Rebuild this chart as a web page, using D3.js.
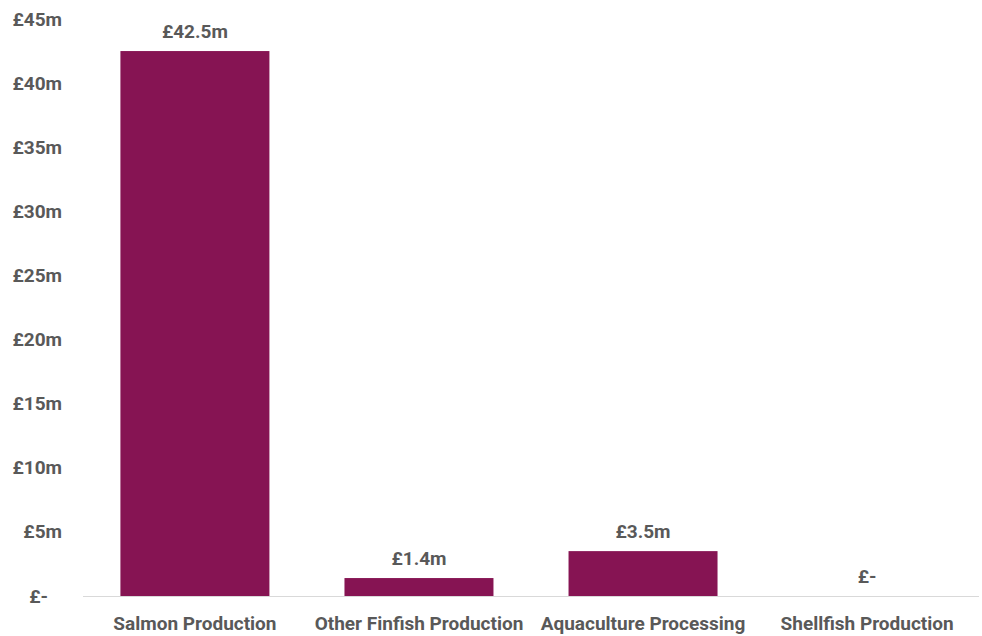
<!DOCTYPE html>
<html><head><meta charset="utf-8">
<script src="https://cdn.jsdelivr.net/npm/d3@7"></script>
<style>body{margin:0;background:#fff}svg{display:block}</style>
</head><body>
<svg id="c" width="982" height="636"></svg>
<script>
const categories = ["Salmon Production","Other Finfish Production","Aquaculture Processing","Shellfish Production"];
const values = [42.5, 1.4, 3.5, 0];
const valueLabels = ["£42.5m","£1.4m","£3.5m","£-"];
const yTicks = [0,5,10,15,20,25,30,35,40,45];

const svg = d3.select("#c");
const font = "Roboto, 'Noto Sans', sans-serif";
const txt = "#595959";
const fs = 19;
const x = d3.scaleBand().domain(categories).range([83, 979]).paddingInner(0.335).paddingOuter(0.167);
const y = d3.scaleLinear().domain([0,45]).range([596, 19]);

// y axis labels
const ya = svg.append("g").attr("transform","translate(62,0)")
  .call(d3.axisLeft(y).tickValues(yTicks).tickSize(0).tickPadding(0)
    .tickFormat(d => d===0 ? "£-" : "£"+d+"m"));
ya.select(".domain").remove();
ya.selectAll("text").attr("font-family",font).attr("font-size",fs).attr("font-weight","bold").attr("fill",txt)
  .attr("dx", d => d===0 ? -14 : 0);

// bars
svg.append("g").selectAll("rect").data(values).join("rect")
  .attr("x",(d,i)=>x(categories[i])).attr("width",x.bandwidth())
  .attr("y",d=>y(d)).attr("height",d=>y(0)-y(d)).attr("fill","#861453");

// baseline
svg.append("line").attr("x1",83).attr("x2",979).attr("y1",y(0)+0.5).attr("y2",y(0)+0.5)
  .attr("stroke","#d9d9d9").attr("stroke-width",1);

// value labels
svg.append("g").selectAll("text").data(values).join("text")
  .attr("x",(d,i)=>x(categories[i])+x.bandwidth()/2).attr("y",d=>y(d)-20)
  .attr("text-anchor","middle").attr("dominant-baseline","central")
  .attr("font-family",font).attr("font-size",fs).attr("font-weight","bold").attr("fill",txt)
  .text((d,i)=>valueLabels[i]);

// x axis labels
const xa = svg.append("g").attr("transform","translate(0,"+y(0)+")")
  .call(d3.axisBottom(x).tickSize(0).tickPadding(0));
xa.select(".domain").remove();
xa.selectAll("text").attr("font-family",font).attr("font-size",fs).attr("font-weight","bold").attr("fill",txt)
  .attr("dy",null).attr("y",27).attr("dominant-baseline","central");
</script>
</body></html>
